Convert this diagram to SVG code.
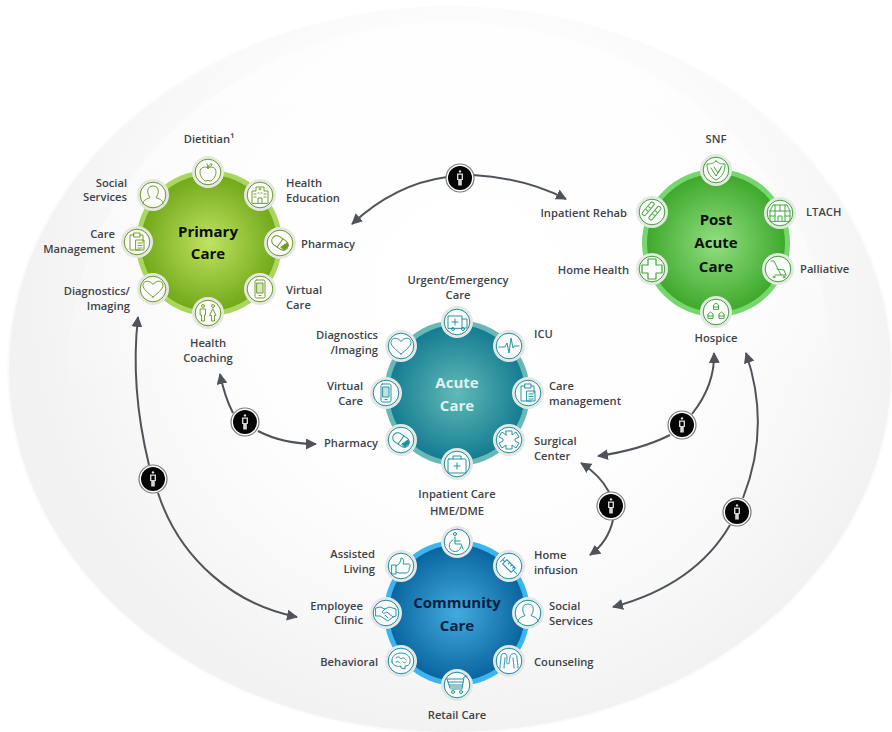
<svg xmlns="http://www.w3.org/2000/svg" width="892" height="732" viewBox="0 0 892 732">
<style>
text{font-family:"Open Sans","Liberation Sans",sans-serif;font-size:11.2px;font-weight:600;fill:#3f4348}
.t{font-size:15px;font-weight:700;text-anchor:middle;fill:#0b0f0a}
.m{text-anchor:middle}.e{text-anchor:end}
.pc{color:#6b9a25}.pa{color:#3fa437}.ac{color:#1d909f}.cc{color:#1c8ea6}
.ic{fill:none;stroke:currentColor;stroke-width:.95;stroke-linejoin:round;stroke-linecap:round}
.cn{fill:none;stroke:#50545a;stroke-width:2}
</style>
<defs>
<radialGradient id="bg" gradientUnits="userSpaceOnUse" cx="470" cy="290" r="440"><stop offset="0" stop-color="#fff"/><stop offset=".5" stop-color="#fefefe"/><stop offset=".8" stop-color="#f8f8f8"/><stop offset="1" stop-color="#f2f2f3"/></radialGradient>
<linearGradient id="hl" x1="0" y1="0" x2="0" y2="1"><stop offset="0" stop-color="#fff" stop-opacity=".6"/><stop offset=".35" stop-color="#fff" stop-opacity=".3"/><stop offset=".55" stop-color="#fff" stop-opacity="0"/></linearGradient>
<radialGradient id="gp"><stop offset="0" stop-color="#c0e262"/><stop offset="1" stop-color="#72a91a"/></radialGradient>
<radialGradient id="gq"><stop offset="0" stop-color="#92de82"/><stop offset="1" stop-color="#3fa92c"/></radialGradient>
<radialGradient id="ga"><stop offset="0" stop-color="#62bab6"/><stop offset="1" stop-color="#147c92"/></radialGradient>
<radialGradient id="gc"><stop offset="0" stop-color="#43abdf"/><stop offset="1" stop-color="#0a659f"/></radialGradient>
<marker id="ah" viewBox="0 0 11 11" refX="10" refY="5.5" markerWidth="11" markerHeight="11" markerUnits="userSpaceOnUse" orient="auto"><path d="M0,0L11,5.5L0,11z" fill="#50545a"/></marker>
<g id="sat"><circle r="16" fill="#e4e7e3"/><circle r="12.8" fill="#fff" fill-opacity=".85" stroke="currentColor" stroke-width="1"/></g>
<g id="badge"><circle r="14" fill="#fff" stroke="#77797b" stroke-width="1.2"/><circle r="12" fill="#050505"/><circle cy="-6.6" r="1.2" fill="#ddd"/><path d="M-3,-4.400H3V2H1.800V7.500H-1.800V2H-3z" fill="#d8d8d8"/><rect x="-1.600" y="-3.200" width="3.200" height="4.200" fill="#050505"/></g>
<g id="apple" class="ic"><path d="M0,-4C-3,-6 -8,-5 -8,0C-8,5 -4,9 -2,9C-1,9 -1,8.4 0,8.4C1,8.4 1,9 2,9C4,9 8,5 8,0C8,-5 3,-6 0,-4zM0,-4L-1,-8M0,-5C1,-8 3,-8 4,-8C4,-6 2,-5 0,-5z"/></g>
<g id="hospital" class="ic"><path d="M-8,8V-4H-4V-8H4V-4H8V8zM-1,-6H1M0,-7V-5M-2,8V3H2V8M-6,-1H-4M-6,2H-4M4,-1H6M4,2H6M-2,-2H-1M1,-2H2"/></g>
<g id="pill" class="ic"><g transform="rotate(35)"><rect x="-9" y="-5" width="18" height="10" rx="5"/><path d="M0,-5V5"/></g><path d="M1,4L7,0L8.500,3L4,7z" fill="currentColor"/></g>
<g id="phone" class="ic"><rect x="-5" y="-9" width="10" height="18" rx="1.500"/><rect x="-3" y="-6" width="6" height="10" fill="currentColor" fill-opacity=".25"/><path d="M-1,6.500H1"/></g>
<g id="people" class="ic"><circle cx="-5" cy="-7" r="1.500"/><circle cx="5" cy="-7" r="1.500"/><path d="M-7.500,-4H-2.500V2H-3.500V8H-6.500V2H-7.500zM5,-4L8,2.500H6.500V8H3.500V2.500H2z"/></g>
<g id="heart" class="ic"><path d="M0,8C-5,4 -10,0 -10,-3.500C-10,-9 -3,-9 0,-4.500C3,-9 10,-9 10,-3.500C10,0 5,4 0,8z"/></g>
<g id="clip" class="ic"><path d="M-3,-7H-7V8H3M3,-7H6V0"/><rect x="-3" y="-9" width="6" height="4"/><rect x="-1" y="-2" width="8" height="10"/><path d="M1,1H5M1,3.500H5M1,6H5"/></g>
<g id="bust" class="ic"><path d="M-10,9C-10,4 -5,4 -3,2.500C-6,-1 -7,-9 0,-9C7,-9 6,-1 3,2.500C5,4 10,4 10,9"/></g>
<g id="shield" class="ic"><path d="M0,-9C3,-6 6,-6 9,-6C9,2 6,7 0,10C-6,7 -9,2 -9,-6C-6,-6 -3,-6 0,-9zM-5,-2L0,6L6,-4M-2,-3L2,3L5,-2"/></g>
<g id="ltach" class="ic"><path d="M-10,8V-2L-7,-8H7L10,-2V8zM-10,-2H10M-5,-8V8M5,-8V8M0,-8V-2M-2,8V3H2V8M-10,3H-5M5,3H10"/></g>
<g id="walker" class="ic"><path d="M-7,-8H-4L3,6H8M-1,0L6,1L8,6M-3,6H3"/><circle cx="-4" cy="8" r=".9"/><circle cx="6" cy="8" r=".9"/></g>
<g id="houses" class="ic"><path d="M-2.500,-3V-7L0,-9L2.500,-7V-3zM-8,6V2L-5.500,0L-3,2V6zM3,6V2L5.500,0L8,2V6zM-8,4H-3M3,4H8M-2.500,-5H2.500"/></g>
<g id="plus" class="ic"><path d="M-4,-10H4V-4H10V4H4V10H-4V4H-10V-4H-4z" stroke-width="1.2"/></g>
<g id="band" class="ic"><g transform="rotate(40)"><rect x="-7" y="-8" width="4" height="16" rx="1.500"/><rect x="1" y="-9" width="4" height="16" rx="1.500"/><path d="M-6,-2H-4M-6,2H-4M2,-3H4M2,1H4"/></g></g>
<g id="amb" class="ic"><path d="M-9,6V-6H5V6zM5,-3H10V6H5M-5,0H1M-2,-3V3"/><circle cx="-4" cy="7" r="1.500"/><circle cx="6" cy="7" r="1.500"/></g>
<g id="pulse" class="ic"><path d="M-10,1H-4L-2,-3L0,7L2,-8L4,2L5,0H10"/></g>
<g id="gear" class="ic"><path d="M-3,-9H3L3,-5L7,-8L10,-3L6,-1V1L10,3L7,8L3,5L3,9H-3L-3,5L-7,8L-10,3L-6,1V-1L-10,-3L-7,-8L-3,-5z"/></g>
<g id="kit" class="ic"><rect x="-9" y="-5" width="18" height="14" rx="1"/><path d="M-4,-5V-8H4V-5M-3,2H3M0,-1V5"/></g>
<g id="chair" class="ic"><circle cx="-2" cy="-8" r="1.500"/><path d="M-2,-5V2H4L6,7M-2,-1H3"/><path d="M-4,-2A6,6 0 1,0 4,5"/></g>
<g id="syr" class="ic"><g transform="rotate(45)"><path d="M-9,-3V3M-9,0H-6M-6,-3H6V3H-6zM6,0H11M-2,-3V-1M1,-3V-1M4,-3V-1"/></g></g>
<g id="brain" class="ic"><path d="M-9,1C-10,-5 -5,-8 0,-8C6,-8 10,-4 9,1C9,4 6,5 4,5L4,8L0,7V5C-3,6 -8,5 -9,1zM-5,-3C-3,-5 -1,-4 0,-2C2,-4 4,-3 5,-1M-5,1C-3,0 -2,1 -1,2M2,1C3,2 4,2 5,1"/></g>
<g id="hands" class="ic"><path d="M-10,-5L-6,-6L-1,-4L3,-6L10,-4V3L7,4L2,8L-6,3L-10,3zM-1,-4L-4,-1C-3,1 -1,0 1,-1L7,4M-1,2L2,5"/></g>
<g id="cart" class="ic"><path d="M10,-9L7,-8L5,4H-6M-10,-6H6M-9,-3H6M-8,0H5.500M-7,2H5M-10,-6L-7,3"/><circle cx="-4" cy="7" r="1.500"/><circle cx="4" cy="7" r="1.500"/></g>
<g id="thumb" class="ic"><path d="M-9,-1H-5V8H-9zM-5,0C-2,-1 0,-4 0,-8C3,-8 3,-4 2,-2H8C10,-2 9,2 8,2C9,4 7,7 5,7H-2L-5,6"/></g>
<g id="couns" class="ic"><path d="M-9,7C-9,2 -8,-1 -8,-4C-8,-9 -2,-9 -2,-4C-2,-1 -3,3 -1,3C1,3 0,-1 1,-4C2,-9 8,-8 8,-4C8,0 9,3 9,7M-5,7C-5,3 -4,0 -4,-3M5,7C5,3 4,0 4,-3"/></g>
</defs>

<g id="background">
<ellipse cx="450" cy="370" rx="443" ry="364" fill="#fbfbfb"/>
<ellipse cx="450" cy="370" rx="441" ry="362" fill="url(#bg)"/>
<ellipse cx="450" cy="370" rx="382" ry="348" fill="url(#hl)"/>
</g>

<g id="connectors" class="cn">
<path class="cn" d="M447,177Q395,184 352,224" marker-end="url(#ah)"/>
<path class="cn" d="M473,175Q525,178 566,199" marker-end="url(#ah)"/>
<path class="cn" d="M233,413Q225,398 220,374" marker-end="url(#ah)"/>
<path class="cn" d="M258,431Q283,444 316,444" marker-end="url(#ah)"/>
<path class="cn" d="M149,465C138,420 132,370 138,317" marker-end="url(#ah)"/>
<path class="cn" d="M158,493C180,560 235,605 297,617" marker-end="url(#ah)"/>
<path class="cn" d="M692,414Q715,385 714,353" marker-end="url(#ah)"/>
<path class="cn" d="M670,435Q640,450 598,456" marker-end="url(#ah)"/>
<path class="cn" d="M609,492Q600,475 581,463" marker-end="url(#ah)"/>
<path class="cn" d="M613,520Q608,542 590,555" marker-end="url(#ah)"/>
<path class="cn" d="M743,498C762,450 762,400 746,353" marker-end="url(#ah)"/>
<path class="cn" d="M730,525Q695,585 613,607" marker-end="url(#ah)"/>
</g>

<g id="badges">
<use id="b1" href="#badge" x="460" y="178"/>
<use id="b2" href="#badge" x="245" y="422"/>
<use id="b3" href="#badge" x="153" y="479"/>
<use id="b4" href="#badge" x="682" y="425"/>
<use id="b5" href="#badge" x="611" y="506"/>
<use id="b6" href="#badge" x="737" y="512"/>
</g>

<g id="primary-care" class="pc">
<circle cx="209" cy="243" r="73" fill="#a9d65c"/><circle cx="209" cy="243" r="68" fill="url(#gp)"/>
<text class="t" x="208" y="237">Primary</text><text class="t" x="208" y="259">Care</text>
<g id="pc-dietitian"><use href="#sat" x="208" y="172"/><use href="#apple" x="208" y="172"/><text class="m" x="209" y="143">Dietitian¹</text></g>
<g id="pc-education"><use href="#sat" x="260" y="195"/><use href="#hospital" x="260" y="195"/><text x="286" y="187">Health</text><text x="286" y="202">Education</text></g>
<g id="pc-pharmacy"><use href="#sat" x="280" y="243"/><use href="#pill" x="280" y="243"/><text x="301" y="248">Pharmacy</text></g>
<g id="pc-virtual"><use href="#sat" x="260" y="289"/><use href="#phone" x="260" y="289"/><text x="286" y="294">Virtual</text><text x="286" y="309">Care</text></g>
<g id="pc-coaching"><use href="#sat" x="208" y="313"/><use href="#people" x="208" y="313"/><text class="m" x="208" y="347">Health</text><text class="m" x="208" y="362">Coaching</text></g>
<g id="pc-diagnostics"><use href="#sat" x="153" y="289"/><use href="#heart" x="153" y="289"/><text class="e" x="130" y="295">Diagnostics/</text><text class="e" x="130" y="310">Imaging</text></g>
<g id="pc-care"><use href="#sat" x="137" y="242"/><use href="#clip" x="137" y="242"/><text class="e" x="115" y="238">Care</text><text class="e" x="115" y="253">Management</text></g>
<g id="pc-social"><use href="#sat" x="153" y="195"/><use href="#bust" x="153" y="195"/><text class="e" x="127" y="187">Social</text><text class="e" x="127" y="201">Services</text></g>
</g>

<g id="post-acute-care" class="pa">
<circle cx="716" cy="243" r="74" fill="#77d66e"/><circle cx="716" cy="243" r="69" fill="url(#gq)"/>
<text class="t" x="716" y="225">Post</text><text class="t" x="716" y="248">Acute</text><text class="t" x="716" y="272">Care</text>
<g id="pa-snf"><use href="#sat" x="716" y="170"/><use href="#shield" x="716" y="170"/><text class="m" x="716" y="143">SNF</text></g>
<g id="pa-ltach"><use href="#sat" x="780" y="213"/><use href="#ltach" x="780" y="213"/><text x="806" y="216">LTACH</text></g>
<g id="pa-palliative"><use href="#sat" x="778" y="269"/><use href="#walker" x="778" y="269"/><text x="800" y="273">Palliative</text></g>
<g id="pa-hospice"><use href="#sat" x="716" y="312"/><use href="#houses" x="716" y="312"/><text class="m" x="716" y="342">Hospice</text></g>
<g id="pa-home"><use href="#sat" x="652" y="269"/><use href="#plus" x="652" y="269"/><text class="e" x="629" y="274">Home Health</text></g>
<g id="pa-rehab"><use href="#sat" x="652" y="212"/><use href="#band" x="652" y="212"/><text class="e" x="627" y="217">Inpatient Rehab</text></g>
</g>

<g id="acute-care" class="ac">
<circle cx="457" cy="393" r="73" fill="#68b9b6"/><circle cx="457" cy="393" r="68" fill="url(#ga)"/>
<text class="t" x="457" y="388" style="fill:#dff3f1">Acute</text><text class="t" x="457" y="411" style="fill:#dff3f1">Care</text>
<g id="ac-urgent"><use href="#sat" x="457" y="322"/><use href="#amb" x="457" y="322"/><text class="m" x="458" y="284">Urgent/Emergency</text><text class="m" x="458" y="299">Care</text></g>
<g id="ac-icu"><use href="#sat" x="509" y="346"/><use href="#pulse" x="509" y="346"/><text x="534" y="338">ICU</text></g>
<g id="ac-care"><use href="#sat" x="528" y="393"/><use href="#clip" x="528" y="393"/><text x="549" y="390">Care</text><text x="549" y="405">management</text></g>
<g id="ac-surgical"><use href="#sat" x="509" y="440"/><use href="#gear" x="509" y="440"/><text x="534" y="445">Surgical</text><text x="534" y="460">Center</text></g>
<g id="ac-inpatient"><use href="#sat" x="457" y="464"/><use href="#kit" x="457" y="464"/><text class="m" x="457" y="498">Inpatient Care</text><text class="m" x="457" y="515">HME/DME</text></g>
<g id="ac-pharmacy"><use href="#sat" x="401" y="440"/><use href="#pill" x="401" y="440"/><text class="e" x="378" y="447">Pharmacy</text></g>
<g id="ac-virtual"><use href="#sat" x="386" y="393"/><use href="#phone" x="386" y="393"/><text class="e" x="363" y="390">Virtual</text><text class="e" x="363" y="405">Care</text></g>
<g id="ac-diagnostics"><use href="#sat" x="401" y="346"/><use href="#heart" x="401" y="346"/><text class="e" x="378" y="339">Diagnostics</text><text class="e" x="378" y="354">/Imaging</text></g>
</g>

<g id="community-care" class="cc">
<circle cx="457" cy="613" r="73" fill="#3cb4ef"/><circle cx="457" cy="613" r="68" fill="url(#gc)"/>
<text class="t" x="457" y="608" style="fill:#0a2140">Community</text><text class="t" x="457" y="631" style="fill:#0a2140">Care</text>
<g id="cc-hme"><use href="#sat" x="457" y="542"/><use href="#chair" x="457" y="542"/></g>
<g id="cc-home"><use href="#sat" x="509" y="566"/><use href="#syr" x="509" y="566"/><text x="534" y="559">Home</text><text x="534" y="574">infusion</text></g>
<g id="cc-social"><use href="#sat" x="528" y="613"/><use href="#bust" x="528" y="613"/><text x="549" y="610">Social</text><text x="549" y="625">Services</text></g>
<g id="cc-counseling"><use href="#sat" x="509" y="661"/><use href="#couns" x="509" y="661"/><text x="534" y="666">Counseling</text></g>
<g id="cc-retail"><use href="#sat" x="457" y="685"/><use href="#cart" x="457" y="685"/><text class="m" x="457" y="719">Retail Care</text></g>
<g id="cc-behavioral"><use href="#sat" x="401" y="661"/><use href="#brain" x="401" y="661"/><text class="e" x="378" y="666">Behavioral</text></g>
<g id="cc-employee"><use href="#sat" x="386" y="613"/><use href="#hands" x="386" y="613"/><text class="e" x="363" y="610">Employee</text><text class="e" x="363" y="624">Clinic</text></g>
<g id="cc-assisted"><use href="#sat" x="401" y="566"/><use href="#thumb" x="401" y="566"/><text class="e" x="375" y="558">Assisted</text><text class="e" x="375" y="573">Living</text></g>
</g>
</svg>
